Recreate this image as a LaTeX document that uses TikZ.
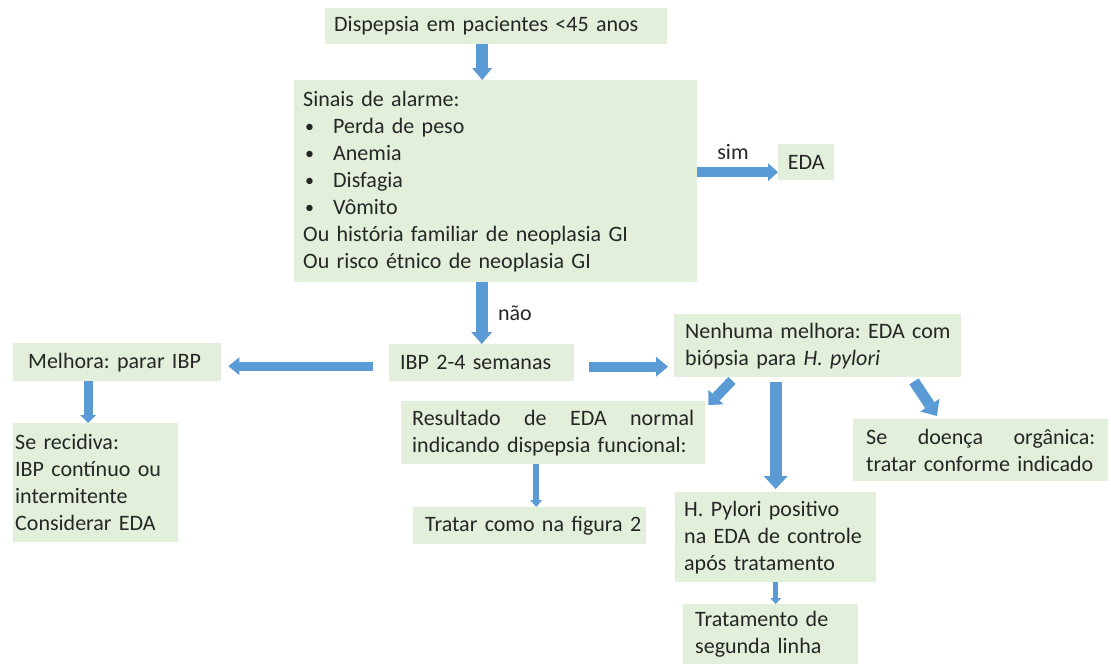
\documentclass[tikz,border=0pt]{standalone}
\usepackage{fontspec}
\setmainfont{Carlito}
\usetikzlibrary{arrows.meta}
\definecolor{boxgreen}{HTML}{E2EFDA}
\definecolor{arrowblue}{HTML}{5B9BD5}
\definecolor{txt}{HTML}{262626}
\newcommand{\mybul}{\makebox[30pt][l]{\hspace{2pt}\raisebox{1pt}{\fontsize{18}{27}\selectfont •}}}
\tikzset{
  box/.style={fill=boxgreen, draw=none, anchor=north west, inner ysep=0pt,
    align=left, text=txt, font=\fontsize{22}{27}\selectfont\frenchspacing},
  lbl/.style={text=txt, font=\fontsize{22}{27}\selectfont, inner sep=0pt},
  barrow/.style args={#1/#2/#3}{draw=arrowblue, line width=#1,
    -{Triangle[width=#2,length=#3,line width=0pt,color=arrowblue]}}
}
\begin{document}
\begin{tikzpicture}[x=1pt,y=-1pt]
\useasboundingbox (0,0) rectangle (1111,664);
% boxes
\node[box, inner xsep=9pt, text width=324pt, minimum height=36pt] (b1) at (325,8) {\mbox{Dispepsia em pacientes <45 anos}};
\node[box, inner xsep=9pt, text width=385pt, minimum height=202pt] (b2) at (294,80) {Sinais de alarme:\\
\mybul Perda de peso\\
\mybul Anemia\\
\mybul Disfagia\\
\mybul Vômito\\
\mbox{Ou história familiar de neoplasia GI}\\
\mbox{Ou risco étnico de neoplasia GI}};
\node[box, inner xsep=0pt, text width=56pt, align=center, minimum height=36pt] (eda) at (778,144) {EDA};
\node[box, inner xsep=11pt, text width=163pt, minimum height=37pt] (ibp) at (389,344) {\mbox{IBP 2-4 semanas}};
\node[box, inner xsep=15pt, text width=178pt, minimum height=38pt] (mel) at (13,343) {\mbox{Melhora: parar IBP}};
\node[box, inner xsep=2pt, text width=161pt, minimum height=119pt] (rec) at (13,423) {Se recidiva:\\\mbox{IBP contínuo ou}\\intermitente\\\mbox{Considerar EDA}};
\node[box, inner xsep=11pt, text width=265pt, minimum height=63pt] (nen) at (674,314) {\mbox{Nenhuma melhora: EDA com}\\\mbox{biópsia para \textit{H. pylori}}};
\node[box, inner xsep=11pt, text width=282pt, minimum height=63pt] (res) at (401,401) {\noindent\hbox to \hsize{Resultado\hfill de\hfill EDA\hfill normal}\\\mbox{indicando dispepsia funcional:}};
\node[box, inner xsep=12pt, text width=209pt, minimum height=37pt] (trat) at (413,507) {\mbox{Tratar como na figura 2}};
\node[box, inner xsep=9pt, text width=183pt, minimum height=90pt] (hp) at (675,492) {\mbox{H. Pylori positivo}\\\mbox{na EDA de controle}\\\mbox{após tratamento}};
\node[box, inner xsep=12pt, text width=151pt, minimum height=60pt] (tr2) at (683,604) {\mbox{Tratamento de}\\\mbox{segunda linha}};
\node[box, inner xsep=13pt, text width=229pt, minimum height=62pt] (org) at (853,419) {\noindent\hbox to \hsize{Se\hfill doença\hfill orgânica:}\\\mbox{tratar conforme indicado}};
% labels
\node[lbl] (sim) at (733,152) {sim};
\node[lbl] (nao) at (515,313) {não};
% connectors
\coordinate (a1) at ([shift={(-14,0)}]b1.south);
\draw[barrow={12pt/20pt/12pt}] (a1) -- (a1 |- b2.north);
\coordinate (se) at ([shift={(0,10)}]eda.west);
\draw[barrow={10pt/18pt/10pt}] (b2.east |- se) -- (se);
\draw[barrow={12pt/21pt/12pt}] (b2.south -| ibp.north) -- (ibp.north);
\draw[barrow={9pt/18pt/11pt}] ([shift={(-16,3.5)}]ibp.west) -- ([shift={(7,4)}]mel.east);
\coordinate (r1) at ([shift={(15,4)}]ibp.east);
\coordinate (r2) at ([shift={(-6,0)}]nen.west);
\draw[barrow={10pt/20pt/12pt}] (r1) -- (r1 -| r2);
\coordinate (m1) at ([shift={(-29,0)}]mel.south);
\draw[barrow={9pt/16pt/8pt}] (m1) -- (m1 |- rec.north);
\draw[barrow={10pt/21pt/11pt}] ([shift={(58,3)}]nen.south west) -- ([shift={(3,4)}]res.north east);
\coordinate (n0) at (nen.south -| hp.north);
\draw[barrow={12pt/24pt/13pt}] ([shift={(0,5)}]n0) -- ([shift={(0,-3)}]hp.north);
\draw[barrow={11pt/23pt/13pt}] ([shift={(240,4)}]nen.south west) -- ([shift={(84,-3)}]org.north west);
\coordinate (r3) at ([shift={(-17,0)}]res.south);
\draw[barrow={6pt/12pt/7pt}] (r3) -- (r3 |- trat.north);
\draw[barrow={5pt/11pt/6pt}] (hp.south) -- (hp.south |- tr2.north);
\end{tikzpicture}
\end{document}
